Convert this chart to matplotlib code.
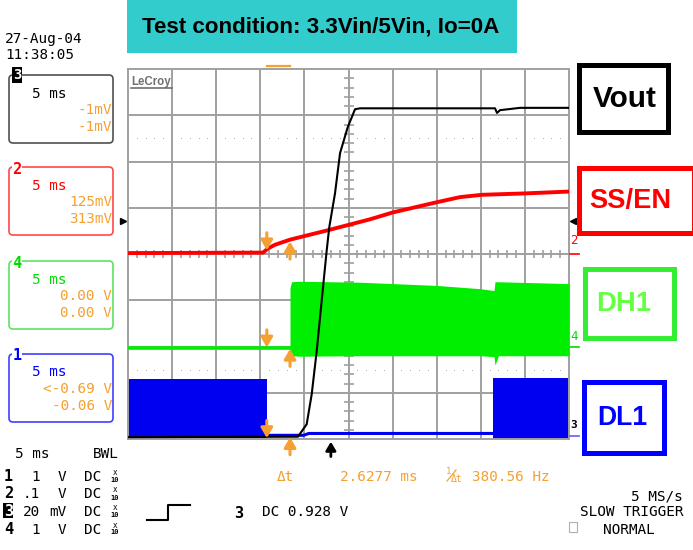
import matplotlib
matplotlib.use('Agg')
import matplotlib.pyplot as plt
from matplotlib import font_manager
from matplotlib.patches import Rectangle, FancyBboxPatch
import numpy as np

W, H = 693, 550

# time in ms (5 ms/div, 10 div), level in divisions (8 div)
vout_t = [0, 19.27, 20.26, 20.83, 21.40, 21.96, 22.53, 22.82, 23.47, 24.04, 24.91, 25.74, 26.30, 41.61, 41.84, 42.18, 44.44, 50]
vout_v = [-3.96, -3.95, -3.68, -3.03, -2.09, -1.01, 0.08, 0.58, 1.31, 2.18, 2.74, 3.13, 3.15, 3.15, 3.05, 3.11, 3.16, 3.16]

ss_t = [0, 15.31, 15.87, 16.67, 18.37, 22.79, 27.44, 30.05, 35.03, 37.64, 40.14, 45.01, 50]
ss_v = [0.02, 0.03, 0.12, 0.20, 0.31, 0.52, 0.75, 0.90, 1.12, 1.23, 1.28, 1.31, 1.35]

dh_flat_t = [0, 18.37]
dh_flat_v = [-2.04, -2.04]
dh_t = [18.37, 18.54, 19.50, 26.30, 30.05, 35.03, 39.91, 41.50, 41.61, 42.0, 50]
dh_top = [-0.73, -0.60, -0.59, -0.61, -0.64, -0.68, -0.75, -0.79, -0.60, -0.60, -0.64]
dh_bot = [-2.20, -2.20, -2.21, -2.20, -2.20, -2.20, -2.20, -2.22, -2.40, -2.20, -2.20]

dl_t1 = [0, 15.76]
dl_top1 = [-2.70, -2.70]
dl_bot1 = [-3.98, -3.98]
dl_low_t = [15.76, 19.9, 20.5, 41.38]
dl_low_v = [-3.92, -3.92, -3.88, -3.88]
dl_t2 = [41.38, 50]
dl_top2 = [-2.69, -2.69]
dl_bot2 = [-4.0, -4.0]

cur_t = [15.74, 18.37]
# arrow tips at cursor 1 (down) / cursor 2 (up) for ch2, ch4, ch1
tip1 = [0.08, -2.02, -3.98]
tip2 = [0.27, -2.05, -3.96]
trig_t = 23.0
trig_lvl = 0.71

ORANGE = '#F5A030'
GRID = '#A0A0A0'


def pick(*names):
    avail = {f.name for f in font_manager.fontManager.ttflist}
    for n in names:
        if n in avail:
            return n
    return 'DejaVu Sans'


NARROW = pick('Liberation Sans Narrow', 'Liberation Sans', 'DejaVu Sans')
MONO = 'DejaVu Sans Mono'

fig = plt.figure(figsize=(W / 100, H / 100), dpi=100)

# ---- scope screen ----
ax = fig.add_axes([128 / W, 1 - 439 / H, (569 - 128) / W, (439 - 69) / H])
ax.set_xlim(0, 50)
ax.set_ylim(-4, 4)
ax.set_xticks([])
ax.set_yticks([])
for s in ax.spines.values():
    s.set_color(GRID)
    s.set_linewidth(1.4)
for x in range(5, 50, 5):
    ax.axvline(x, color=GRID, lw=1.4, zorder=1)
for y in range(-3, 4):
    ax.axhline(y, color=GRID, lw=1.4, zorder=1)
minor_x = [x for x in range(1, 50) if x % 5]
ax.plot(minor_x, [0] * len(minor_x), ls='', marker='|', ms=5.8, mew=1.2, color=GRID, zorder=1)
minor_y = [y / 5 for y in range(-19, 20) if y % 5]
ax.plot([25] * len(minor_y), minor_y, ls='', marker='_', ms=7.2, mew=1.2, color=GRID, zorder=1)
for y in (2.5, -2.5):
    ax.plot(minor_x, [y] * len(minor_x), ls='', marker='s', ms=0.6, mew=0, color='#A8A8A8', zorder=1)

# DL1
ax.fill_between(dl_t1, dl_bot1, dl_top1, color='#0000F0', lw=0, zorder=2)
ax.fill_between(dl_t2, dl_bot2, dl_top2, color='#0000F0', lw=0, zorder=2)
ax.plot(dl_low_t, dl_low_v, color='#0000F0', lw=2.2, zorder=2)
# DH1
ax.plot(dh_flat_t, dh_flat_v, color='#00EE00', lw=2.6, zorder=3)
ax.fill_between(dh_t, dh_bot, dh_top, color='#00EE00', lw=0, zorder=3)
# SS/EN
ax.plot(ss_t, ss_v, color='#FF0000', lw=2.8, zorder=4)
# Vout
ax.plot(vout_t, vout_v, color='black', lw=1.5, zorder=5)

# cursors
arr = dict(arrowstyle='-|>,head_width=0.35,head_length=0.6', color=ORANGE, lw=2.2,
           shrinkA=0, shrinkB=0)
for a, b in zip(tip1, tip2):
    ax.annotate('', xy=(cur_t[0], a), xytext=(cur_t[0], a + 0.38), arrowprops=arr,
                annotation_clip=False, zorder=6)
    ax.annotate('', xy=(cur_t[1], b), xytext=(cur_t[1], b - 0.38), arrowprops=arr,
                annotation_clip=False, zorder=6)
ax.plot(cur_t, [4.06, 4.06], color=ORANGE, lw=1.6, clip_on=False, zorder=6)
ax.annotate('', xy=(trig_t, -4.06), xytext=(trig_t, -4.38),
            arrowprops=dict(arrowstyle='-|>,head_width=0.3,head_length=0.5', color='black',
                            lw=2, shrinkA=0, shrinkB=0), annotation_clip=False)
ax.plot([-0.55], [trig_lvl], marker='>', ms=5, color='black', clip_on=False)
ax.plot([50.5], [trig_lvl], marker='<', ms=4, color='black', clip_on=False)

# ---- overlay in pixel coordinates ----
ov = fig.add_axes([0, 0, 1, 1], zorder=5)
ov.set_xlim(0, W)
ov.set_ylim(H, 0)
ov.axis('off')
ov.patch.set_alpha(0)

# title
ov.add_patch(Rectangle((127, 0), 390, 53, color='#33CCCC', lw=0))
title = ov.text(321, 27, 'Test condition: 3.3Vin/5Vin, Io=0A', ha='center', va='center',
                fontsize=18, fontweight='bold', family=NARROW, color='black')

# LeCroy logo
ov.text(131, 85, 'LeCroy', fontsize=8.3, fontweight='bold', family=NARROW, color='#707070',
        va='baseline')
ov.plot([131, 172], [88, 88], color='#707070', lw=1.2)


def mono(x, y, s, color='black', ha='left', size=10.4, weight='normal'):
    return ov.text(x, y, s, family=MONO, fontsize=size, color=color, ha=ha, va='baseline',
                   fontweight=weight)


mono(5, 43, '27-Aug-04')
mono(5, 59, '11:38:05')

boxes = [
    ('3', 75, '#505050', 'black', '-1mV', '-1mV'),
    ('2', 167, '#FF4848', '#FF0000', '125mV', '313mV'),
    ('4', 261, '#60E060', '#00DD00', '0.00 V', '0.00 V'),
    ('1', 354, '#4040FF', '#0000FF', '<-0.69 V', '-0.06 V'),
]
for num, top, ec, tc, v1, v2 in boxes:
    ov.add_patch(FancyBboxPatch((9, top), 104, 68, boxstyle='round,pad=0,rounding_size=4',
                                fc='none', ec=ec, lw=1.2))
    if num == '3':
        ov.add_patch(Rectangle((12, 67), 10, 16, color='black', lw=0))
        ov.text(17, 75, num, color='white', fontsize=10, fontweight='bold', family=MONO,
                ha='center', va='center')
    else:
        ov.text(17, top + 2, num, color=tc, fontsize=11, fontweight='bold', family=MONO,
                ha='center', va='center', bbox=dict(fc='white', ec='none', pad=0))
    mono(32, top + 22.5, '5 ms', color=tc)
    mono(112, top + 39, v1, color=ORANGE, ha='right')
    mono(112, top + 56, v2, color=ORANGE, ha='right')

# bottom-left settings
mono(15, 458, '5 ms')
mono(93, 458, 'BWL')
rows = [('1', '1', 'V', 481), ('2', '.1', 'V', 498.5), ('3', '20', 'mV', 516), ('4', '1', 'V', 533.5)]
for num, val, unit, yb in rows:
    if num == '3':
        ov.add_patch(Rectangle((3, yb - 13), 10, 15, color='black', lw=0))
        mono(4, yb, num, color='white', size=11, weight='bold')
    else:
        mono(4, yb, num, size=11, weight='bold')
    mono(40, yb, val, ha='right')
    mono(66, yb, unit, ha='right')
    mono(84, yb, 'DC')
    mono(115, yb - 6, 'x', size=5.5, ha='center')
    mono(115, yb + 1, '10', size=5, ha='center', weight='bold')

# trigger
ov.plot([147, 168, 168, 190], [520, 520, 505, 505], color='black', lw=1.5)
mono(234, 518, '3', size=11, weight='bold')
mono(262, 516, 'DC 0.928 V')

# cursor readout
mono(277, 481, '\u0394t', color=ORANGE)
mono(340, 481, '2.6277 ms', color=ORANGE)
mono(446, 474, '1', color=ORANGE, size=6.5)
ov.plot([447, 456], [481, 470], color=ORANGE, lw=0.9)
mono(451, 482, '\u0394t', color=ORANGE, size=7)
mono(472, 481, '380.56 Hz', color=ORANGE)

mono(683, 500, '5 MS/s', ha='right')
mono(683, 516, 'SLOW TRIGGER', ha='right')
mono(603, 533.5, 'NORMAL')
ov.add_patch(Rectangle((569, 522), 8, 10, fc='none', ec='#B0B0B0', lw=0.8))

# right edge channel markers
ov.text(574, 241, '2', color='#FF0000', fontsize=9, family=MONO, ha='center', va='center')
ov.plot([570, 579], [254, 254], color='#FF0000', lw=1.2)
ov.text(574, 336, '4', color='#00DD00', fontsize=9, family=MONO, ha='center', va='center')
ov.plot([570, 579], [347, 347], color='#00DD00', lw=1.2)
ov.text(574, 425, '3', color='black', fontsize=8, family=MONO, fontweight='bold', ha='center',
        va='center')
ov.plot([570, 579], [436, 436], color='#6060FF', lw=1.2)

# trace name boxes: text, box edges, colours, text centre, target text width
labels = [
    ('Vout', 576, 62, 670, 134, 'black', 'black', 625, 99, 64),
    ('SS/EN', 576, 165, 696, 235, '#FF0000', '#FF0000', 630, 201, 82),
    ('DH1', 582, 266, 676, 340, '#33EE33', '#66FF44', 624, 304, 55),
    ('DL1', 581, 379, 666, 455, '#0000FF', '#0000FF', 622, 418, 50),
]
label_txt = []
for s, x0, y0, x1, y1, ec, tc, tx, ty, tw in labels:
    ov.add_patch(Rectangle((x0 + 2.5, y0 + 2.5), x1 - x0 - 5, y1 - y0 - 5, fc='white', ec=ec,
                           lw=3.6, clip_on=False))
    t = ov.text(tx, ty, s, color=tc, fontsize=20, fontweight='bold', family=NARROW, ha='center',
                va='center')
    label_txt.append((t, tw))

# fit wide fallback fonts to the measured widths
fig.canvas.draw()
bb = title.get_window_extent()
title.set_fontsize(18 * 357 / bb.width)
for t, tw in label_txt:
    t.set_fontsize(20 * tw / t.get_window_extent().width)

fig.savefig('out.png', dpi=100)
